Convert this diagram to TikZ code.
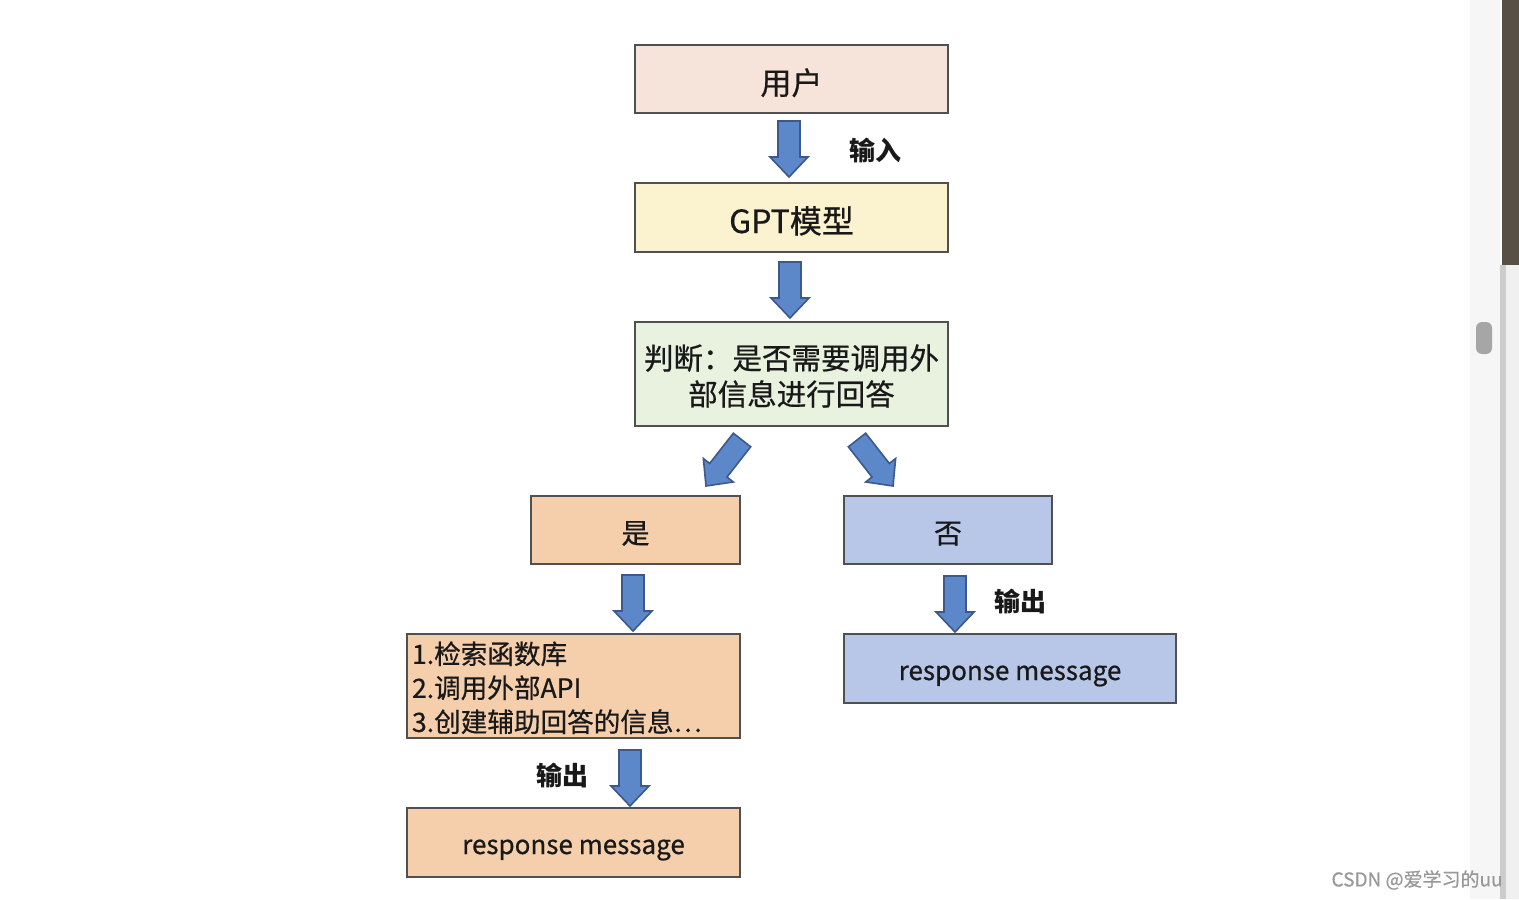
\documentclass[tikz,border=0pt]{standalone}
\usepackage{fontspec}
\setmainfont{Noto Sans CJK SC}[UprightFeatures={FakeBold=0.6}]
\usetikzlibrary{calc}
\definecolor{cuser}{RGB}{246,228,218}
\definecolor{cgpt}{RGB}{251,243,208}
\definecolor{cjudge}{RGB}{233,241,223}
\definecolor{cpeach}{RGB}{245,206,172}
\definecolor{cblue}{RGB}{184,198,231}
\definecolor{cborder}{RGB}{80,80,80}
\definecolor{carrow}{RGB}{92,136,202}
\definecolor{carrowline}{RGB}{60,88,140}
\definecolor{ctext}{RGB}{25,25,25}
\definecolor{cdark}{RGB}{88,80,68}
\tikzset{
  box/.style={draw=cborder, line width=1pt, inner sep=0pt, font=\fontsize{15.5pt}{18pt}\selectfont, text=ctext, text height=18pt, text depth=2.5pt},
  mbox/.style={draw=cborder, line width=1pt, inner sep=0pt, text=ctext},
  lbl/.style={font=\bfseries\fontsize{13pt}{15pt}\selectfont, text=ctext},
  barrowstyle/.style={fill=carrow, draw=carrowline, line width=0.8pt, line join=miter},
}
\newcommand\blockarrow[2]{%
  \coordinate (ba-h) at ($(#2)!10pt!(#1)$);
  \filldraw[barrowstyle] ($(#1)!5.5pt!90:(#2)$) -- ($(ba-h)!5.5pt!90:(#2)$) -- ($(ba-h)!9.5pt!90:(#2)$) -- (#2) -- ($(ba-h)!9.5pt!-90:(#2)$) -- ($(ba-h)!5.5pt!-90:(#2)$) -- ($(#1)!5.5pt!-90:(#2)$) -- cycle;}
\begin{document}
\begin{tikzpicture}[x=0.5pt, y=-0.5pt]
\useasboundingbox (0,0) rectangle (1519,899);
\fill[white] (0,0) rectangle (1519,899);
% screen artefacts on the right
\fill[gray!7] (1470,0) rectangle (1500,899);
\fill[gray!40] (1500,265) rectangle (1506,899);
\fill[gray!12] (1506,265) rectangle (1519,899);
\fill[cdark] (1502,0) rectangle (1519,265);
\fill[gray!70, rounded corners=3pt] (1476,322) rectangle (1492,354);
% boxes
\node[box, fill=cuser, minimum width=156.5pt, minimum height=34pt] (user) at (791.5,79) {用户};
\node[box, fill=cgpt, minimum width=156.5pt, minimum height=34.5pt, font=\fontsize{16pt}{18pt}\selectfont] (gpt) at (791.5,217.5) {GPT模型};
\node[mbox, fill=cjudge, minimum width=156.5pt, minimum height=52pt, align=center, font=\fontsize{14.75pt}{18pt}\selectfont] (judge) at (791.5,374) {\rule{0pt}{14.5pt}判断：是否需要调用外\\部信息进行回答};
\node[box, fill=cpeach, minimum width=104.5pt, minimum height=34pt, font=\fontsize{14pt}{18pt}\selectfont, text height=16pt] (yes) at (635.5,530) {是};
\node[box, fill=cblue, minimum width=104pt, minimum height=34pt, font=\fontsize{14pt}{18pt}\selectfont, text height=16pt] (no) at (948,530) {否};
\node[mbox, fill=cpeach, minimum width=166.5pt, minimum height=52pt, text width=161.5pt, align=left, font=\fontsize{13.3pt}{17pt}\selectfont] (list) at (573.5,686) {\rule{0pt}{13pt}1.检索函数库\\2.调用外部API\\3.创建辅助回答的信息⋯};
\node[box, fill=cpeach, minimum width=166.5pt, minimum height=34.5pt, font=\fontsize{13pt}{16pt}\selectfont, text height=14pt] (respL) at (573.5,842.5) {response message};
\node[box, fill=cblue, minimum width=166pt, minimum height=34.5pt, font=\fontsize{13pt}{16pt}\selectfont, text height=14pt] (respR) at (1010,668.5) {response message};
% arrow end points
\coordinate (a1s) at (789,121); \coordinate (a1e) at (789,177);
\coordinate (a2s) at (790,262); \coordinate (a2e) at (790,318);
\coordinate (a3s) at (742,440); \coordinate (a3e) at (706,486);
\coordinate (a4s) at (857,440); \coordinate (a4e) at (893,486);
\coordinate (a5s) at (633,575); \coordinate (a5e) at (633,631);
\coordinate (a6s) at (955,576); \coordinate (a6e) at (955,632);
\coordinate (a7s) at (630,750); \coordinate (a7e) at (630,806);
\blockarrow{a1s}{a1e}
\blockarrow{a2s}{a2e}
\blockarrow{a3s}{a3e}
\blockarrow{a4s}{a4e}
\blockarrow{a5s}{a5e}
\blockarrow{a6s}{a6e}
\blockarrow{a7s}{a7e}
% labels
\node[lbl] (l1) at (875,150) {输入};
\node[lbl] (l2) at (1020,601) {输出};
\node[lbl] (l3) at (562,775) {输出};
\node[text=gray!80, font=\fontsize{9.5pt}{11pt}\selectfont, anchor=east, inner sep=0pt] (wm) at (1503,880) {CSDN @爱学习的uu};
\end{tikzpicture}
\end{document}
